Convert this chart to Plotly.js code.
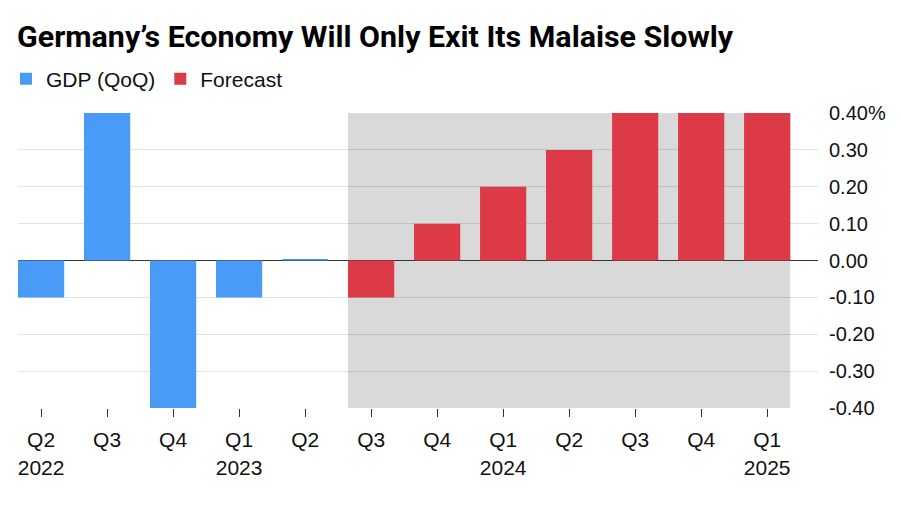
<!DOCTYPE html>
<html>
<head>
<meta charset="utf-8">
<script src="https://cdn.plot.ly/plotly-3.0.1.min.js"></script>
<style>html,body{margin:0;padding:0;background:#fff;}#chart{width:900px;height:510px;}</style>
</head>
<body>
<div id="chart"></div>
<script>
// ---- data ----
var categories = ["2022 Q2","2022 Q3","2022 Q4","2023 Q1","2023 Q2","2023 Q3","2023 Q4","2024 Q1","2024 Q2","2024 Q3","2024 Q4","2025 Q1"];
var tickLabels = ["Q2<br>2022","Q3","Q4","Q1<br>2023","Q2","Q3","Q4","Q1<br>2024","Q2","Q3","Q4","Q1<br>2025"];
var gdpCategories = ["2022 Q2","2022 Q3","2022 Q4","2023 Q1","2023 Q2"];
var gdpValues = [-0.10, 0.40, -0.40, -0.10, 0.004];
var forecastCategories = ["2023 Q3","2023 Q4","2024 Q1","2024 Q2","2024 Q3","2024 Q4","2025 Q1"];
var forecastValues = [-0.10, 0.10, 0.20, 0.30, 0.40, 0.40, 0.40];
var yTickVals = [0.4, 0.3, 0.2, 0.1, 0, -0.1, -0.2, -0.3, -0.4];
var yTickText = ["0.40%","0.30","0.20","0.10","0.00","-0.10","-0.20","-0.30","-0.40"];

var FONT = "Liberation Sans, Arial, Helvetica, sans-serif";
var TITLE_FONT = "Roboto, Liberation Sans, Arial, sans-serif";
var BAR_W = 0.7;
var firstForecastIdx = categories.indexOf(forecastCategories[0]);
var lastIdx = categories.length - 1;

var traces = [
  {type:"bar", name:"GDP (QoQ)", x:gdpCategories, y:gdpValues, width:BAR_W,
   marker:{color:"#4a9af7"}, hoverinfo:"skip"},
  {type:"bar", name:"Forecast", x:forecastCategories, y:forecastValues, width:BAR_W,
   marker:{color:"#dc3a46"}, hoverinfo:"skip"}
];

var layout = {
  width:900, height:510,
  margin:{l:18, r:82, t:113, b:102},
  paper_bgcolor:"#fff", plot_bgcolor:"rgba(0,0,0,0)",
  font:{family:FONT, color:"#111", size:19},
  title:{text:"<b>Germany’s Economy Will Only Exit Its Malaise Slowly</b>",
    font:{family:TITLE_FONT, size:30.4, color:"#000"},
    x:17/900, xanchor:"left", xref:"container", y:1-36/510, yanchor:"middle", yref:"container"},
  showlegend:true,
  legend:{orientation:"h", xref:"container", yref:"container", x:6/900, xanchor:"left", y:1-79/510, yanchor:"middle",
    font:{family:FONT, size:21, color:"#111"}, bgcolor:"rgba(0,0,0,0)", itemclick:false, traceorder:"normal"},
  barmode:"overlay",
  xaxis:{type:"category", categoryorder:"array", categoryarray:categories,
    range:[-0.35, 11.77], tickvals:categories, ticktext:tickLabels,
    ticks:"outside", ticklen:8, tickwidth:1.2, tickcolor:"#333", ticklabelstandoff:5,
    showgrid:false, zeroline:false, showline:false, automargin:false,
    tickfont:{family:FONT, size:21, color:"#111"}, fixedrange:true},
  yaxis:{side:"right", range:[-0.4, 0.4], tickvals:yTickVals, ticktext:yTickText,
    showgrid:true, gridcolor:"rgba(0,0,0,0.11)", gridwidth:1.2,
    zeroline:true, zerolinecolor:"#333", zerolinewidth:1.5,
    showline:false, ticks:"", ticklabelstandoff:10, automargin:false,
    tickfont:{family:FONT, size:20, color:"#111"}, fixedrange:true},
  shapes:[{type:"rect", layer:"below", xref:"x", yref:"y",
    x0:firstForecastIdx - BAR_W/2, x1:lastIdx + BAR_W/2, y0:-0.4, y1:0.4,
    fillcolor:"#d9d9d9", line:{width:0}}]
};

Plotly.newPlot("chart", traces, layout, {displayModeBar:false, staticPlot:true});
</script>
</body>
</html>
